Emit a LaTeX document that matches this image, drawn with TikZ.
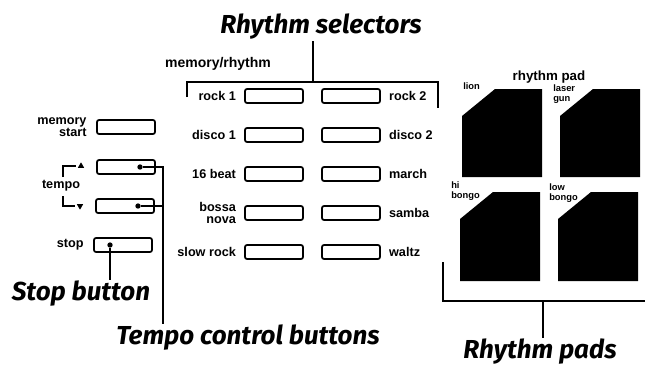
\documentclass[tikz,border=0pt]{standalone}
\usepackage{fontspec}
\setmainfont{Liberation Sans}
\newfontfamily\capfont{Fira Sans}
\usetikzlibrary{positioning, shapes.geometric, calc}
\tikzset{
  btn/.style={draw, line width=1.3pt, rounded corners=1.5pt,
              minimum width=43.5pt, minimum height=10.5pt, inner sep=0pt},
  lbl/.style={font=\fontsize{9.5}{9.5}\selectfont\bfseries, inner sep=1pt, align=right},
  rlbl/.style={lbl, align=left},
  padlbl/.style={font=\fontsize{7}{7.5}\selectfont\bfseries, inner sep=0pt, align=left},
  callout/.style={font=\capfont\fontsize{19.5}{19.5}\selectfont\bfseries\itshape, inner sep=1pt},
  lead/.style={line width=1.4pt},
  brk/.style={line width=1pt},
  pad/.style={fill=black},
  dot/.style={circle, fill, inner sep=0pt, minimum size=4pt},
  tri/.style={regular polygon, regular polygon sides=3, fill, inner sep=0pt, minimum size=5.5pt},
}

\begin{document}
\begin{tikzpicture}[x=0.75pt, y=-0.75pt]
  \useasboundingbox (0,0) rectangle (645,371);

  % memory/rhythm selectors
  \node[lbl, font=\fontsize{10.5}{10.5}\selectfont\bfseries] (memrhy) at (218,64) {memory/rhythm};
  \foreach \i/\y/\a/\b in {1/96/{rock 1}/{rock 2}, 2/135/{disco 1}/{disco 2},
                           3/174/{16 beat}/{march}, 4/213/{bossa\\nova}/{samba},
                           5/252/{slow rock}/{waltz}} {
    \node[btn] (L\i) at (274,\y) {};
    \node[btn] (R\i) at (351,\y) {};
    \node[lbl, left=5pt of L\i] {\a};
    \node[rlbl, right=5pt of R\i] {\b};
  }

  % left controls
  \node[btn] (mstart) at (126,127) {};
  \node[btn] (tup) at (126,167) {};
  \node[btn] (tdown) at (125,206) {};
  \node[btn] (stopb) at (123,245) {};
  \node[lbl, left=6pt of mstart] {memory\\start};
  \node[lbl, left=6pt of stopb] {stop};
  \node[lbl] (tempo) at (61,186) {tempo};
  \node[tri] (tUp) at (81,166) {};
  \node[tri, shape border rotate=180] (tDn) at (80,206) {};
  \coordinate (tmpTop) at (63,177);
  \coordinate (tmpBot) at (63,196);
  \draw[brk, shorten >=2pt] (tmpTop) |- (tUp.west);
  \draw[brk, shorten >=2pt] (tmpBot) |- (tDn.west);

  % rhythm pads
  \node[lbl, font=\fontsize{10}{10}\selectfont\bfseries] (rpad) at (549,77) {rhythm pad};
  \fill[pad] (462,116) -- (495,89) -- (542,89) -- (542,177) -- (462,177) -- cycle;
  \fill[pad] (560,116) -- (593,89) -- (640,89) -- (640,177) -- (560,177) -- cycle;
  \fill[pad] (460,219) -- (493,192) -- (540,192) -- (540,281) -- (460,281) -- cycle;
  \fill[pad] (558,219) -- (591,192) -- (638,192) -- (638,281) -- (558,281) -- cycle;
  \node[padlbl, anchor=south west] (lion) at (463,90) {lion};
  \node[padlbl, anchor=north west] (laser) at (553,84) {laser\\gun};
  \node[padlbl, anchor=north west] (hib) at (451,181) {hi\\bongo};
  \node[padlbl, anchor=north west] (lowb) at (549,183) {low\\bongo};

  % callouts
  \node[callout] (rsel) at (321,27) {Rhythm selectors};
  \coordinate (rsL) at (187,97);
  \coordinate (rsJ) at (313,82);
  \coordinate (rsR) at (438,108);
  \draw[lead] (rsL) |- (rsJ) -| (rsR);
  \draw[lead] (rsJ) -- (rsJ |- rsel.south);

  \node[callout] (tcb) at (248,338) {Tempo control buttons};
  \node[dot] (tuDot) at (140,167) {};
  \node[dot] (tdDot) at (138,206) {};
  \coordinate (tcTop) at (163,167);
  \draw[lead] (tuDot) -- (tcTop) -- (tcTop |- tcb.north);
  \draw[lead] (tdDot) -- (tdDot -| tcTop);

  \node[callout] (stoplbl) at (81,294) {Stop button};
  \node[dot] (stDot) at (110,245) {};
  \draw[lead] (stDot) -- (stDot |- stoplbl.north);

  \node[callout] (rpads) at (540,352) {Rhythm pads};
  \coordinate (rpL) at (443,262);
  \coordinate (rpJ) at (543,301);
  \coordinate (rpR) at (645,301);
  \draw[lead] (rpL) |- (rpR);
  \draw[lead] (rpJ) -- (rpJ |- rpads.north);
\end{tikzpicture}
\end{document}
